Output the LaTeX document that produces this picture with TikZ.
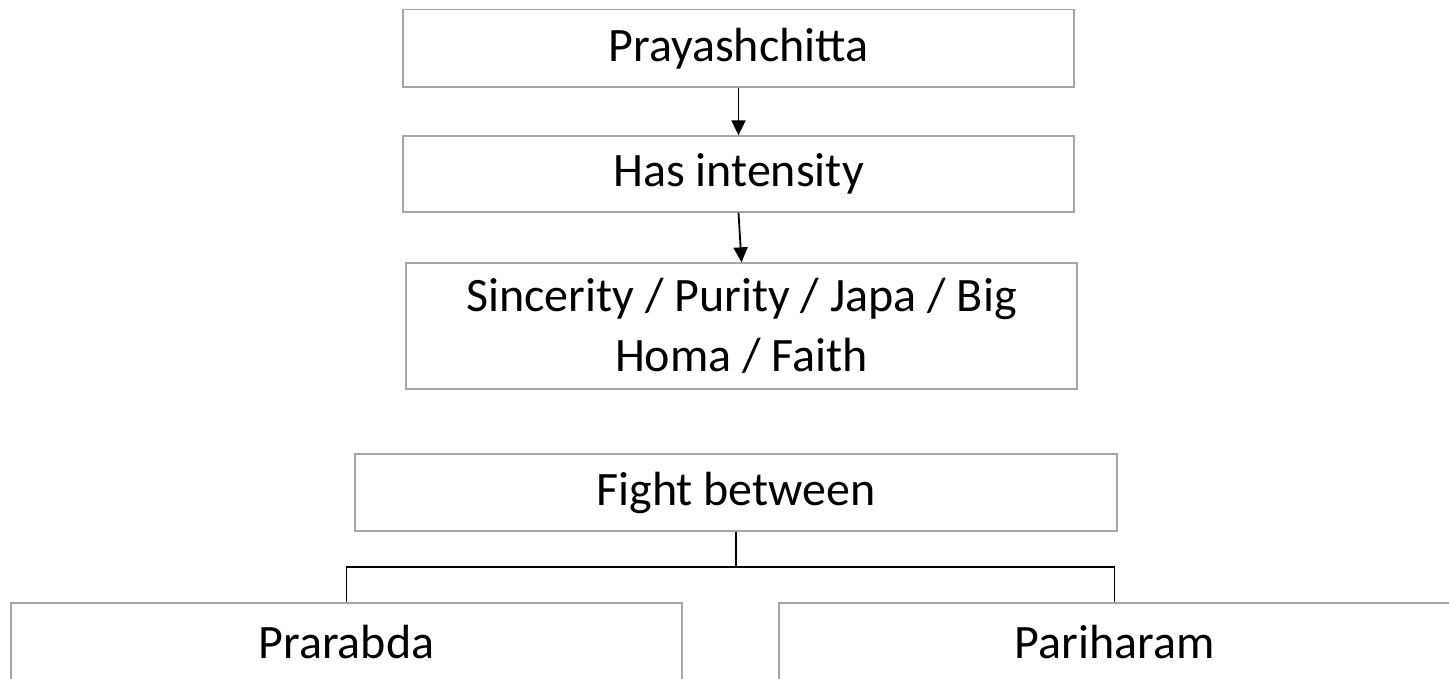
\documentclass[tikz,border=0pt]{standalone}
\usepackage{fontspec}
\setmainfont{Carlito}
\usetikzlibrary{arrows.meta}
\definecolor{boxgray}{RGB}{165,165,165}
\begin{document}
\begin{tikzpicture}[x=1pt,y=-1pt]
\useasboundingbox (0,0) rectangle (1449,679);
\clip (0,0) rectangle (1449,679);
\tikzset{
  box/.style={draw=boxgray, line width=1.3pt, fill=white, inner sep=0pt,
    font=\fontsize{48}{60}\selectfont, align=center},
  link/.style={draw=black, line width=1.8pt},
  arr/.style={link, -{Triangle[length=15pt,width=14pt]}}
}
\node[box, minimum width=671pt, minimum height=77.5pt] (b1) at (738.5,48.25) {Prayashchitta};
\node[box, minimum width=671pt, minimum height=76pt] (b2) at (738.5,174) {Has intensity};
\node[box, minimum width=671pt, minimum height=126pt] (b3) at (741.5,326) {Sincerity / Purity / Japa / Big\\Homa / Faith};
\node[box, minimum width=762pt, minimum height=77pt] (b4) at (736,492.5) {Fight between};
\node[box, minimum width=671pt, minimum height=78pt] (b5) at (346.5,642) {Prarabda};
\node[box, minimum width=671pt, minimum height=78pt] (b6) at (1114.5,642) {Pariharam};
\draw[arr] (b1.south) -- (b2.north);
\draw[arr] (b2.south) -- (b3.north);
\coordinate (j) at (736,567);
\draw[link] (b4.south) -- (j);
\draw[link] (b5.north) |- (j) -| (b6.north);
\end{tikzpicture}
\end{document}
